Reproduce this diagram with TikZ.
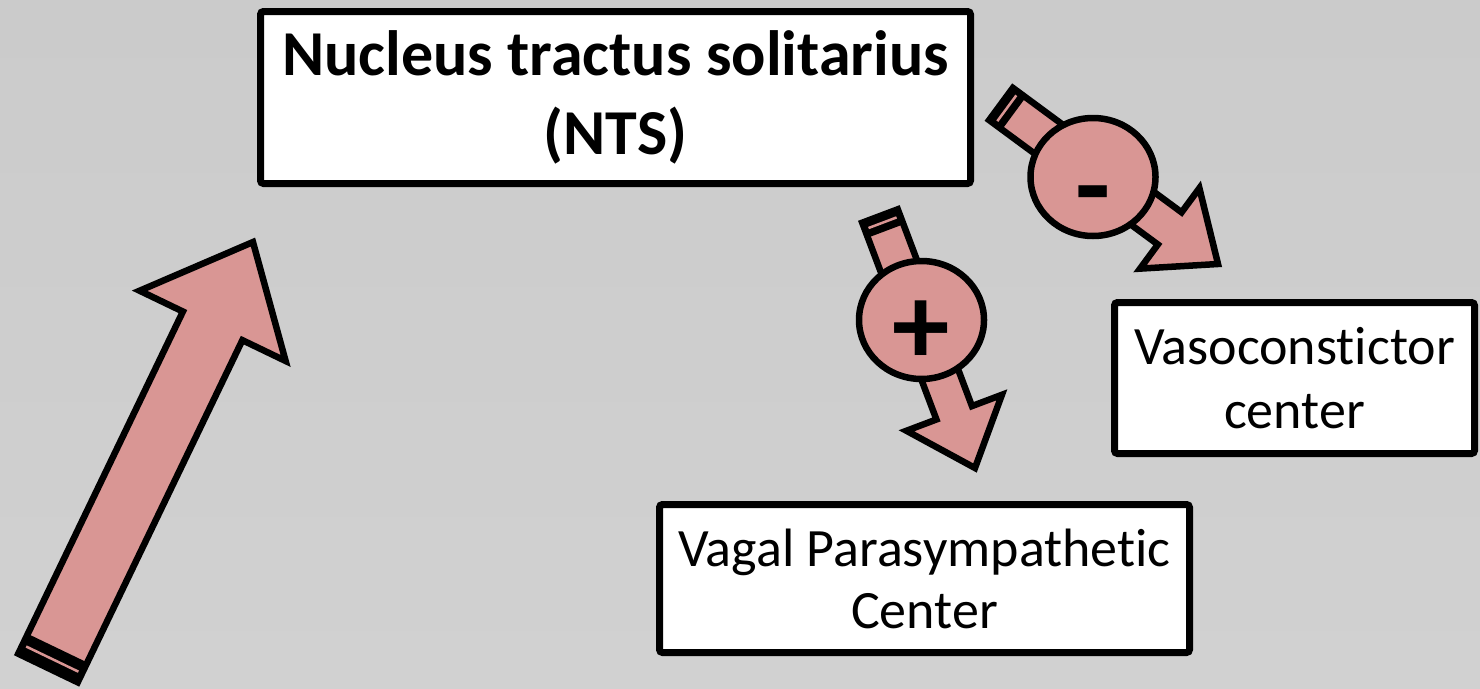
\documentclass[tikz,border=0pt]{standalone}
\usepackage{fontspec}
\setmainfont{Carlito}[Ligatures={NoCommon,NoContextual}, RawFeature={-liga;-clig;-calt;-dlig}]
\usetikzlibrary{positioning, shapes.geometric}

\definecolor{pinkfill}{RGB}{217,150,148}
\definecolor{bgtop}{RGB}{203,203,203}
\definecolor{bgmid}{RGB}{183,183,183}
\definecolor{bgbot}{RGB}{209,209,209}

% tail, tip, half shaft, half head, head length, tail band
\newcommand{\blockarrow}[6]{%
    \pgfpointdiff{\pgfpointanchor{#1}{center}}{\pgfpointanchor{#2}{center}}%
    \pgfgetlastxy{\arrdx}{\arrdy}%
    \pgfmathsetmacro\arrang{atan2(\arrdy,\arrdx)}%
    \pgfmathsetmacro\arrlen{veclen(\arrdx,\arrdy)}%
    \begin{scope}[shift={(#1)}, rotate=\arrang]
        \draw[blockarrow] (0,-#3) -- ({\arrlen-#5},-#3) -- ({\arrlen-#5},-#4) -- (\arrlen,0)
            -- ({\arrlen-#5},#4) -- ({\arrlen-#5},#3) -- (0,#3) -- cycle;
        \fill[black] (0,-#3) rectangle (#6,#3);
        \draw[pinkfill, line width=2.5pt] ({0.45*#6},{-#3+4}) -- ({0.45*#6},{#3-4});
    \end{scope}}

\begin{document}
\begin{tikzpicture}[x=1pt, y=-1pt]
    % Stili
    \tikzstyle{box} = [draw, fill=white, line width=7pt, rectangle, rounded corners=3pt, align=center, inner sep=0pt]
    \tikzstyle{blockarrow} = [draw, fill=pinkfill, line width=6.5pt]
    \tikzstyle{signcircle} = [ellipse, draw, fill=pinkfill, line width=6.5pt, inner sep=0pt,
        minimum width=125pt, minimum height=118pt, font=\bfseries\fontsize{115}{115}\selectfont]

    % Sfondo
    \shade[top color=bgtop, middle color=bgmid, bottom color=bgbot] (0,0) rectangle (1480,688);
    \useasboundingbox (0,0) rectangle (1480,688);

    % Nodi
    \node[box, minimum width=710pt, minimum height=172pt, font=\bfseries\fontsize{64}{79}\selectfont]
        (nts) at (615.5,97.5) {Nucleus tractus solitarius\\(NTS)};
    \node[box, minimum width=360pt, minimum height=151pt, font=\fontsize{54}{64}\selectfont]
        (vaso) at (1294.5,378) {Vasoconstictor\\center};
    \node[box, minimum width=530pt, minimum height=148pt, font=\fontsize{54}{62}\selectfont]
        (vagal) at (924.5,578.5) {Vagal Parasympathetic\\Center};

    \coordinate (in_tail) at (48,668);
    \coordinate (in_tip) at (253,242);
    \coordinate (plus_tail) at (880,216);
    \coordinate (plus_tip) at (975,468);
    \coordinate (minus_tail) at (1001,104);
    \coordinate (minus_tip) at (1218,264);

    % Frecce
    \blockarrow{in_tail}{in_tip}{33}{81}{93}{22}
    \blockarrow{plus_tail}{plus_tip}{19}{51}{59}{16}
    \blockarrow{minus_tail}{minus_tip}{20}{50}{60}{16}

    % Segni
    \node[signcircle] (plus) at (921.5,320) {\raisebox{-0.39em}[0pt][0pt]{+}};
    \node[signcircle] (minus) at (1093,177) {\raisebox{-0.41em}[0pt][0pt]{-}};
\end{tikzpicture}
\end{document}
